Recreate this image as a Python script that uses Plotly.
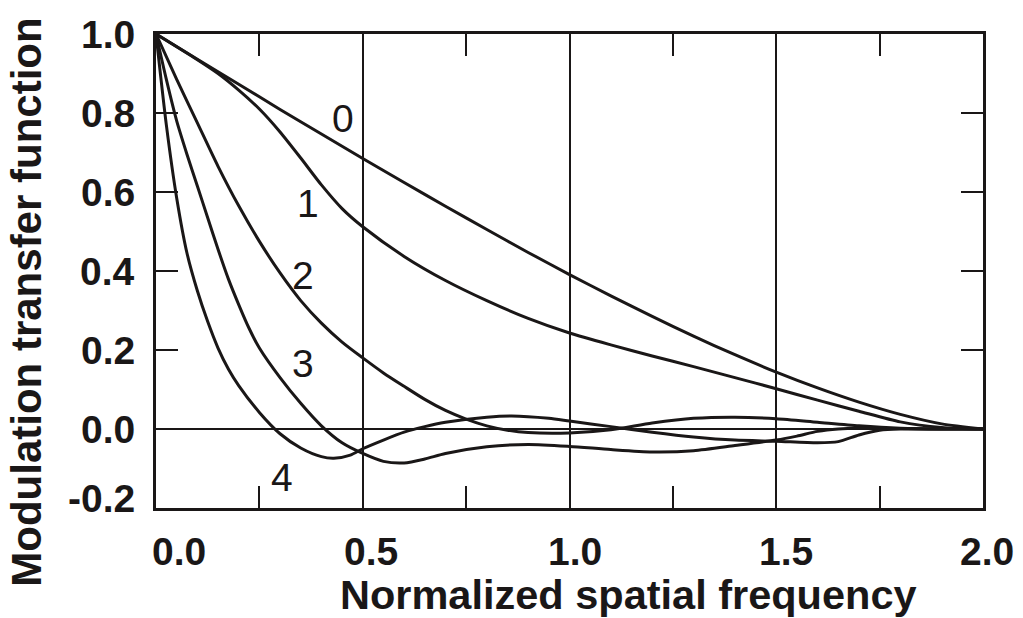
import plotly.graph_objects as go

# ---- data ----
x0 = [0.0, 0.1, 0.2, 0.3, 0.4, 0.5, 0.6, 0.7, 0.8, 0.9, 1.0, 1.1, 1.2, 1.3, 1.4, 1.5, 1.6, 1.7, 1.8, 1.9, 2.0]
y0 = [1.0, 0.936, 0.873, 0.809, 0.747, 0.685, 0.624, 0.564, 0.505, 0.447, 0.391, 0.337, 0.285, 0.235, 0.188, 0.144, 0.104, 0.068, 0.037, 0.013, 0.0]

x1 = [0.0, 0.1, 0.15, 0.2, 0.25, 0.3, 0.35, 0.4, 0.45, 0.5, 0.6, 0.7, 0.8, 0.9, 1.0, 1.1, 1.2, 1.3, 1.4, 1.5, 1.6, 1.7, 1.8, 1.9, 2.0]
y1 = [1.0, 0.935, 0.9, 0.858, 0.81, 0.752, 0.686, 0.618, 0.558, 0.512, 0.437, 0.376, 0.325, 0.28, 0.243, 0.213, 0.185, 0.158, 0.13, 0.102, 0.073, 0.045, 0.018, 0.004, 0.0]

x2 = [0.0, 0.05, 0.1, 0.15, 0.2, 0.25, 0.3, 0.35, 0.4, 0.45, 0.5, 0.55, 0.6, 0.65, 0.7, 0.75, 0.8, 0.85, 0.9, 1.0, 1.1, 1.2, 1.3, 1.4, 1.5, 1.6, 1.7, 1.8, 1.9, 2.0]
y2 = [1.0, 0.885, 0.775, 0.665, 0.565, 0.475, 0.395, 0.325, 0.268, 0.22, 0.18, 0.142, 0.108, 0.075, 0.047, 0.025, 0.008, -0.003, -0.009, -0.01, -0.002, 0.015, 0.027, 0.03, 0.026, 0.017, 0.008, 0.002, 0.0, 0.0]

x3 = [0.0, 0.025, 0.05, 0.075, 0.1, 0.125, 0.15, 0.175, 0.2, 0.225, 0.25, 0.3, 0.35, 0.4, 0.45, 0.5, 0.55, 0.6, 0.65, 0.7, 0.8, 0.9, 1.0, 1.1, 1.2, 1.3, 1.4, 1.5, 1.55, 1.6, 1.65, 1.7, 1.8, 1.9, 2.0]
y3 = [1.0, 0.885, 0.78, 0.695, 0.615, 0.535, 0.455, 0.38, 0.315, 0.255, 0.205, 0.13, 0.065, 0.008, -0.035, -0.062, -0.082, -0.086, -0.076, -0.062, -0.045, -0.039, -0.044, -0.052, -0.058, -0.055, -0.042, -0.028, -0.018, -0.006, 0.0, 0.002, 0.001, 0.0, 0.0]

x4 = [0.0, 0.025, 0.05, 0.075, 0.1, 0.125, 0.15, 0.175, 0.2, 0.25, 0.3, 0.35, 0.4, 0.43, 0.47, 0.5, 0.55, 0.6, 0.65, 0.7, 0.8, 0.86, 0.95, 1.0, 1.1, 1.2, 1.3, 1.4, 1.5, 1.6, 1.65, 1.7, 1.75, 1.8, 1.9, 2.0]
y4 = [1.0, 0.77, 0.585, 0.445, 0.35, 0.272, 0.205, 0.152, 0.11, 0.042, -0.012, -0.048, -0.07, -0.074, -0.066, -0.05, -0.028, -0.008, 0.006, 0.017, 0.03, 0.033, 0.027, 0.02, 0.006, -0.008, -0.02, -0.028, -0.031, -0.035, -0.032, -0.015, -0.003, 0.0, 0.0, 0.0]

series = [(x0, y0), (x1, y1), (x2, y2), (x3, y3), (x4, y4)]

curve_labels = ["0", "1", "2", "3", "4"]
curve_label_x = [0.452, 0.368, 0.356, 0.356, 0.305]
curve_label_y = [0.787, 0.571, 0.388, 0.165, -0.124]

x_tick_vals = [0.0, 0.5, 1.0, 1.5, 2.0]
x_tick_text = ["0.0", "0.5", "1.0", "1.5", "2.0"]
x_tick_shift = [23, 8, 5, 10, 4]
y_tick_vals = [1.0, 0.8, 0.6, 0.4, 0.2, 0.0, -0.2]
y_tick_text = ["1.0", "0.8", "0.6", "0.4", "0.2", "0.0", "-0.2"]
y_tick_shift = [0, 0, 0, 0, 0, 0, 10]

x_title = "Normalized spatial frequency"
y_title = "Modulation transfer function"

FONT = "Liberation Sans, Arial, sans-serif"
INK = "#1a1717"

fig = go.Figure()
for xs, ys in series:
    fig.add_trace(go.Scatter(x=xs, y=ys, mode="lines",
                             line=dict(color=INK, width=3, shape="spline", smoothing=0.7),
                             showlegend=False, hoverinfo="skip"))

annotations = []
for t, xv, yv in zip(curve_labels, curve_label_x, curve_label_y):
    annotations.append(dict(x=xv, y=yv, xref="x", yref="y", text=t, showarrow=False,
                            font=dict(family=FONT, size=39, color=INK),
                            xanchor="center", yanchor="middle"))
for v, t, s in zip(x_tick_vals, x_tick_text, x_tick_shift):
    annotations.append(dict(x=v, y=0, xref="x", yref="paper", text="<b>%s</b>" % t, showarrow=False,
                            font=dict(family=FONT, size=39, color=INK),
                            xanchor="center", yanchor="top", xshift=s, yshift=-20))
for v, t, s in zip(y_tick_vals, y_tick_text, y_tick_shift):
    annotations.append(dict(x=0, y=v, xref="paper", yref="y", text="<b>%s</b>" % t, showarrow=False,
                            font=dict(family=FONT, size=39, color=INK),
                            xanchor="right", yanchor="middle", xshift=-19, yshift=s))
annotations.append(dict(x=0.571, y=0, xref="paper", yref="paper", text="<b>%s</b>" % x_title,
                        showarrow=False, font=dict(family=FONT, size=41.5, color=INK),
                        xanchor="center", yanchor="top", yshift=-61))
annotations.append(dict(x=-0.157, y=0.4335, xref="paper", yref="paper", text="<b>%s</b>" % y_title,
                        showarrow=False, textangle=-90, font=dict(family=FONT, size=42, color=INK),
                        xanchor="center", yanchor="middle"))

fig.update_layout(
    width=1023, height=618,
    margin=dict(l=156, r=40, t=34, b=110),
    paper_bgcolor="white", plot_bgcolor="white",
    annotations=annotations,
    xaxis=dict(range=[0, 2], showline=True, linewidth=3, linecolor=INK, mirror="ticks",
               tickvals=[0.25, 0.75, 1.25, 1.75], ticks="inside", ticklen=22, tickwidth=2,
               tickcolor=INK, showticklabels=False, showgrid=False, zeroline=False,
               minor=dict(tickvals=[0.5, 1.0, 1.5], showgrid=True, gridcolor=INK,
                          gridwidth=1.5, ticks="")),
    yaxis=dict(range=[-0.2, 1.0], showline=True, linewidth=3, linecolor=INK, mirror="ticks",
               tickvals=[0.2, 0.4, 0.6, 0.8], ticks="inside", ticklen=22, tickwidth=2,
               tickcolor=INK, showticklabels=False, showgrid=False,
               zeroline=True, zerolinecolor=INK, zerolinewidth=1.5),
)

fig.write_html("out.html")
